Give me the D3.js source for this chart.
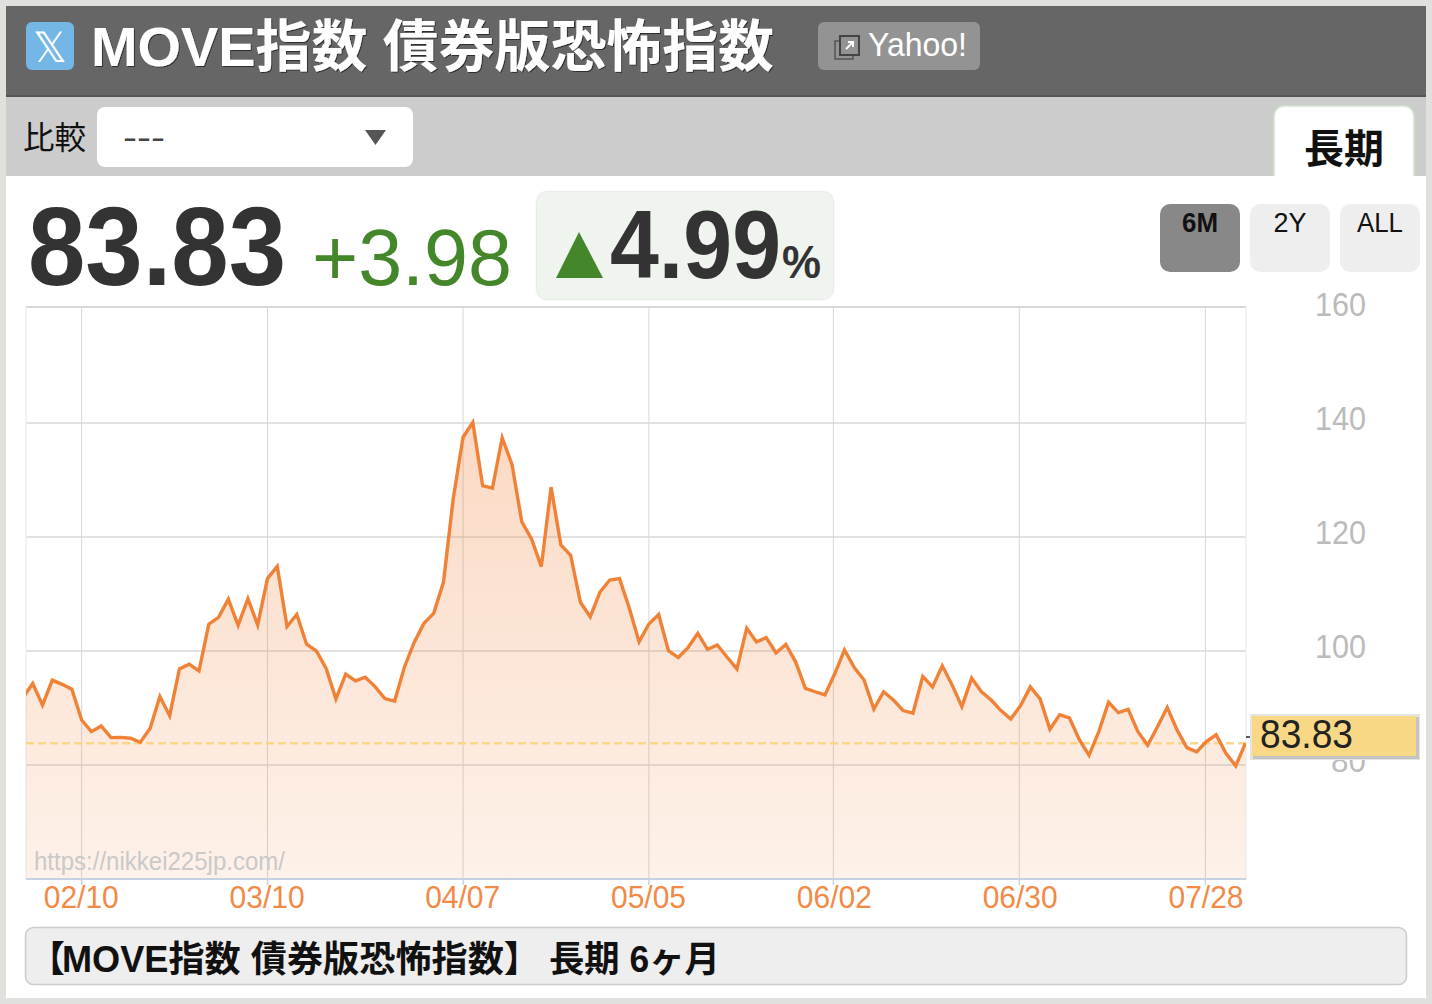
<!DOCTYPE html>
<html lang="ja"><head><meta charset="utf-8">
<script src="https://cdn.jsdelivr.net/npm/d3@7"></script>
<style>html,body{margin:0;padding:0;background:#e0e0dc}svg{display:block}text{font-family:"Liberation Sans","Noto Sans CJK JP",sans-serif}</style>
</head><body><div id="chart"></div>
<script>
const pageTitle = "MOVE指数 債券版恐怖指数";
const captionParts = ["【","MOVE指数 債券版恐怖指数】","長期 6ヶ月"];
const lastValue = 83.83;
const changeText = "+3.98";
const changePct = "4.99";
const ranges = ["6M","2Y","ALL"];
const yTicks = [160,140,120,100,80];
const xTickLabels = ["02/10","03/10","04/07","05/05","06/02","06/30","07/28"];
const xTickIndex = [6,25,45,64,82.86,101.87,120.9];
const values = [91.8,94.3,90.5,94.9,94.15,93.3,87.9,85.85,86.85,84.8,84.85,84.7,84.0,86.4,92.0,88.65,96.85,97.7,96.5,104.7,105.9,109.1,104.5,109.2,104.55,112.7,114.85,104.3,106.4,101.2,100,96.95,91.6,95.95,94.75,95.4,93.75,91.65,91.2,97.15,101.5,104.85,106.6,112.1,126.8,137.5,140.1,129,128.55,137.4,132.75,122.7,119.65,114.8,128.75,118.6,116.8,108.55,106,110.35,112.45,112.7,107.5,101.6,104.75,106.4,100.05,98.85,100.6,103.1,100.3,101.05,98.9,96.85,104,101.6,102.35,99.65,101.15,98.1,93.45,92.85,92.3,96,100.2,97.1,94.9,89.8,92.85,91.4,89.55,89.1,95.55,93.7,97.4,94.05,90.25,95.25,92.85,91.4,89.55,88.05,90.4,93.7,91.6,86.25,88.8,88.25,84.5,81.7,85.85,91,89.2,89.75,85.85,83.45,86.7,90.1,86.15,83.05,82.3,84.1,85.3,82.05,79.85,83.83];

const svg = d3.select("#chart").append("svg").attr("width",1432).attr("height",1004);
const defs = svg.append("defs");
const grad = defs.append("linearGradient").attr("id","fill").attr("x1",0).attr("x2",0).attr("y1",0).attr("y2",1);
grad.append("stop").attr("offset",0).attr("stop-color","#f0823a").attr("stop-opacity",.3);
grad.append("stop").attr("offset",1).attr("stop-color","#f0823a").attr("stop-opacity",.11);
defs.append("clipPath").attr("id","plot").append("rect").attr("x",26).attr("y",307).attr("width",1220).attr("height",572);
const sh = defs.append("filter").attr("id","ts").attr("x","-5%").attr("y","-5%").attr("width","110%").attr("height","115%");
sh.append("feDropShadow").attr("dx",1).attr("dy",1).attr("stdDeviation",.6).attr("flood-color","#222").attr("flood-opacity",.8);
const bs = defs.append("filter").attr("id","bs").attr("x","-5%").attr("y","-5%").attr("width","110%").attr("height","110%");
bs.append("feDropShadow").attr("dx",0).attr("dy",0).attr("stdDeviation",1.2).attr("flood-color","#999").attr("flood-opacity",.6);

function rect(x,y,w,h,fill,r){return svg.append("rect").attr("x",x).attr("y",y).attr("width",w).attr("height",h).attr("fill",fill).attr("rx",r||0);}
function txt(s,x,y,size,fill,opts){opts=opts||{};const t=svg.append("text").attr("x",x).attr("y",y).attr("font-size",size).attr("fill",fill).attr("font-weight",opts.w||400).attr("text-anchor",opts.a||"start").text(s);
  if(opts.len){t.attr("textLength",opts.len).attr("lengthAdjust","spacingAndGlyphs");} return t;}
function span(t,s,x,size,len){return t.append("tspan").attr("x",x).attr("font-size",size).attr("textLength",len).attr("lengthAdjust","spacingAndGlyphs").text(s);}

// page panels
rect(6,6,1420,89,"#666666");
rect(6,95,1420,2,"#555555");
rect(6,97,1420,79,"#cccccc");
rect(6,176,1420,822,"#ffffff");

// header
rect(26,22,48,48,"#74b6e6",6);
svg.append("text").attr("x",50).attr("y",62).attr("text-anchor","middle").attr("font-size",42).attr("fill","#fff").attr("font-family","'DejaVu Sans'").text("𝕏");
txt(pageTitle,91,66,56,"#ffffff",{w:700,len:683}).attr("filter","url(#ts)");
rect(818,22,162,48,"#939393",6);
rect(835,41,18,18,"none").attr("stroke","#555").attr("stroke-width",1.5);
rect(840,36,19,19,"#939393").attr("stroke","#444").attr("stroke-width",2);
svg.append("path").attr("d","M846 49L853 42M848 42H853V47").attr("stroke","#fff").attr("stroke-width",2).attr("fill","none");
txt("Yahoo!",868,56,34,"#ffffff",{len:99});

// compare row
txt("比較",23,149,32,"#111111",{len:63});
rect(97,107,316,60,"#ffffff",8);
txt("---",123,148,32,"#444444",{len:42});
svg.append("path").attr("d","M365 130H386L375.5 145Z").attr("fill","#555555");
rect(1274,106,140,80,"#ffffff",10).attr("stroke","#cfe6c9").attr("stroke-width",1.5);
rect(1272,176,144,12,"#ffffff");
txt("長期",1304,163,40,"#111111",{w:700,len:80});

// big numbers
txt(d3.format(".2f")(lastValue),28,285,112,"#333333",{w:700,len:258});
txt(changeText,312,285,80,"#44862a",{len:200});
rect(537,192,296,107,"#f0f4ef",10).attr("filter","url(#bs)");
svg.append("path").attr("d","M556 278L579 232L603 278Z").attr("fill","#44862a");
const pct = svg.append("text").attr("y",278).attr("fill","#333333").attr("font-weight",700);
span(pct,changePct,610,96,171);
span(pct,"%",782,46,39);

// range buttons
const rangeWidths = [36,33,46];
ranges.forEach((r,i)=>{
  const x=1160+i*90;
  rect(x,204,80,68,i===0?"#888888":"#eeeeee",10);
  txt(r,x+40,232,27,"#111111",{w:i===0?700:400,a:"middle",len:rangeWidths[i]});
});

// chart
const x = d3.scaleLinear().domain([0,values.length-1]).range([22.95,1245.5]);
const y = d3.scaleLinear().domain([60,160]).range([879,309]);
const g = svg.append("g");
g.selectAll("line.h").data(yTicks.filter(v=>v<160)).join("line").attr("x1",26).attr("x2",1246).attr("y1",d=>y(d)).attr("y2",d=>y(d)).attr("stroke","#d8d8d8").attr("stroke-width",1.5);
g.append("line").attr("x1",26).attr("x2",1246).attr("y1",307).attr("y2",307).attr("stroke","#d8d8d8").attr("stroke-width",2);
g.append("line").attr("x1",26).attr("x2",26).attr("y1",307).attr("y2",879).attr("stroke","#eeeeee").attr("stroke-width",1.5);
g.append("line").attr("x1",1246).attr("x2",1246).attr("y1",307).attr("y2",879).attr("stroke","#eeeeee").attr("stroke-width",1.5);
g.selectAll("line.v").data(xTickIndex).join("line").attr("x1",d=>x(d)).attr("x2",d=>x(d)).attr("y1",307).attr("y2",879).attr("stroke","#d6d6d6").attr("stroke-width",1);

const plot = svg.append("g").attr("clip-path","url(#plot)");
const area = d3.area().x((d,i)=>x(i)).y0(y(60)).y1(d=>y(d));
const line = d3.line().x((d,i)=>x(i)).y(d=>y(d));
plot.append("path").datum(values).attr("d",area).attr("fill","url(#fill)");
plot.append("line").attr("x1",26).attr("x2",1246).attr("y1",y(lastValue)).attr("y2",y(lastValue)).attr("stroke","#fbd58a").attr("stroke-width",2.5).attr("stroke-dasharray","8 4");
plot.append("path").datum(values).attr("d",line).attr("fill","none").attr("stroke","#f08237").attr("stroke-width",3.4).attr("stroke-linejoin","miter");

txt("https://nikkei225jp.com/",34,870,25,"#c9c9c9",{len:251});

// x axis
svg.append("line").attr("x1",26).attr("x2",1246).attr("y1",879).attr("y2",879).attr("stroke","#c3d2e2").attr("stroke-width",2);
svg.append("g").selectAll("line").data(xTickIndex).join("line").attr("x1",d=>x(d)).attr("x2",d=>x(d)).attr("y1",879).attr("y2",885).attr("stroke","#c3d2e2").attr("stroke-width",1.5);
xTickLabels.forEach((l,i)=>{txt(l,x(Math.round(xTickIndex[i]))-0.4,908,32,"#f28a45",{a:"middle",len:75});});

// y axis
yTicks.forEach(v=>{txt(String(v),1366,y(v)+7,34,"#bbbbbb",{a:"end",len:v<100?35:51});});

// current value flag
svg.append("line").attr("x1",1246).attr("x2",1256).attr("y1",737).attr("y2",737).attr("stroke","#222").attr("stroke-width",1.5);
rect(1250,714,170,46,"#e4e4e4");
rect(1253,717,166,42,"#c4c4c4");
rect(1252,716,164,40,"#f9d885");
txt(String(lastValue),1260,748,40,"#222222",{len:93});

// caption
rect(25.5,927.5,1381,57,"#eeeeee",8).attr("stroke","#cccccc").attr("stroke-width",1.5);
const cap = svg.append("text").attr("y",972).attr("fill","#111111").attr("font-weight",700);
span(cap,captionParts[0],29,36,36);
span(cap,captionParts[1],62,36,478);
span(cap,captionParts[2],549,36,171);
</script></body></html>
